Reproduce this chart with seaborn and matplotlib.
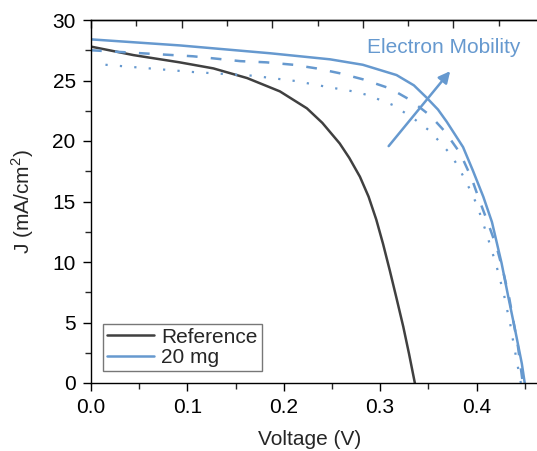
import matplotlib
matplotlib.use("Agg")
import matplotlib.pyplot as plt
import seaborn as sns
from matplotlib.ticker import MultipleLocator, FormatStrFormatter

# J-V curves
ref_v = [0.0, 0.044, 0.092, 0.127, 0.162, 0.196, 0.224, 0.24, 0.258, 0.268,
         0.279, 0.288, 0.296, 0.303, 0.31, 0.317, 0.324, 0.330, 0.336]
ref_j = [27.8, 27.1, 26.5, 26.0, 25.2, 24.1, 22.7, 21.5, 19.8, 18.6,
         17.05, 15.4, 13.5, 11.5, 9.3, 7.0, 4.65, 2.4, 0.0]

mg20_v = [0.0, 0.092, 0.186, 0.248, 0.282, 0.317, 0.335, 0.348, 0.360, 0.369, 0.386,
          0.396, 0.407, 0.416, 0.426, 0.433, 0.440, 0.447, 0.450]
mg20_j = [28.4, 27.9, 27.25, 26.75, 26.3, 25.45, 24.6, 23.6, 22.6, 21.6, 19.5,
          17.6, 15.4, 13.3, 9.9, 7.1, 4.4, 1.6, 0.0]

dash_v = [0.0, 0.106, 0.155, 0.182, 0.21, 0.234, 0.258, 0.282, 0.31, 0.331, 0.352,
          0.367, 0.383, 0.395, 0.403, 0.412, 0.421, 0.428, 0.434, 0.443, 0.448]
dash_j = [27.5, 27.0, 26.6, 26.5, 26.3, 26.0, 25.6, 25.1, 24.35, 23.4, 22.1,
          20.8, 19.0, 16.9, 15.1, 13.2, 11.2, 9.1, 7.0, 3.0, 0.0]

dot_v = [0.015, 0.106, 0.167, 0.212, 0.243, 0.272, 0.287, 0.313, 0.334, 0.352, 0.362,
         0.372, 0.381, 0.388, 0.395, 0.401, 0.406, 0.411, 0.4155, 0.42, 0.424, 0.428,
         0.431, 0.4345, 0.437, 0.4425, 0.446]
dot_j = [26.3, 25.7, 25.4, 24.96, 24.5, 24.1, 23.8, 22.98, 21.9, 20.8, 19.9,
         19.0, 17.9, 16.8, 15.7, 14.6, 13.4, 12.2, 11.0, 9.9, 8.65, 7.5,
         6.3, 5.1, 3.9, 1.5, 0.0]

DARK = "#404040"
BLUE = "#6699cf"
FS = 15

sns.set_style("ticks")
plt.rcParams["font.family"] = ["Liberation Sans", "DejaVu Sans"]
plt.rcParams["mathtext.fontset"] = "custom"
plt.rcParams["mathtext.rm"] = "Liberation Sans"

fig = plt.figure(figsize=(5.37, 4.51), dpi=100)
ax = fig.add_axes([91 / 537, 68 / 451, 453 / 537, 363 / 451])

sns.lineplot(x=ref_v, y=ref_j, sort=False, color=DARK, linewidth=1.8, label="Reference", ax=ax)
sns.lineplot(x=mg20_v, y=mg20_j, sort=False, color=BLUE, linewidth=1.8, label="20 mg", ax=ax)
sns.lineplot(x=dash_v, y=dash_j, sort=False, color=BLUE, linewidth=1.8, ax=ax,
             linestyle=(0, (4.3, 5.3)))
sns.lineplot(x=dot_v, y=dot_j, sort=False, color=BLUE, linewidth=1.6, ax=ax,
             linestyle=(0, (1.0, 5.5)))

ax.set_xlim(0, 0.47)
ax.set_ylim(0, 30)
ax.xaxis.set_major_locator(MultipleLocator(0.1))
ax.xaxis.set_minor_locator(MultipleLocator(0.05))
ax.xaxis.set_major_formatter(FormatStrFormatter("%.1f"))
ax.yaxis.set_major_locator(MultipleLocator(5))
ax.yaxis.set_minor_locator(MultipleLocator(2.5))
ax.tick_params(which="major", direction="out", length=6, width=1.0, labelsize=FS,
               colors="black", pad=5)
ax.tick_params(which="minor", direction="out", length=4, width=1.0)
ax.spines["right"].set_visible(False)
for side in ["left", "bottom", "top"]:
    ax.spines[side].set_linewidth(1.0)
    ax.spines[side].set_color("black")

# top axis ticks (inward, unlabeled)
top = ax.secondary_xaxis("top", functions=(lambda v: v / 0.94, lambda v: v * 0.94))
top.xaxis.set_major_locator(MultipleLocator(0.1))
top.xaxis.set_minor_locator(MultipleLocator(0.05))
top.tick_params(which="major", direction="in", length=6, width=1.0, labeltop=False)
top.tick_params(which="minor", direction="in", length=4, width=1.0)
top.spines["top"].set_linewidth(1.0)

ax.set_xlabel("Voltage (V)", fontsize=FS)
ax.xaxis.set_label_coords(0.483, -0.13)
ax.set_ylabel("J (mA/cm$^2$)", fontsize=FS, labelpad=12)

ax.annotate("", xy=(0.3745, 25.95), xytext=(0.307, 19.4),
            arrowprops=dict(arrowstyle="-|>", color=BLUE, lw=1.8, mutation_scale=17))
ax.text(0.286, 27.7, "Electron Mobility", color=BLUE, fontsize=FS, ha="left", va="center")

leg = ax.legend(loc="lower left", bbox_to_anchor=(12 / 453, 12 / 363), fontsize=FS,
                frameon=True, fancybox=False, handlelength=2.25, handletextpad=0.35,
                labelspacing=0.05, borderpad=0.2, borderaxespad=0)
leg.get_frame().set_edgecolor("#555555")
leg.get_frame().set_linewidth(1.0)

fig.savefig("out.png", dpi=100)
